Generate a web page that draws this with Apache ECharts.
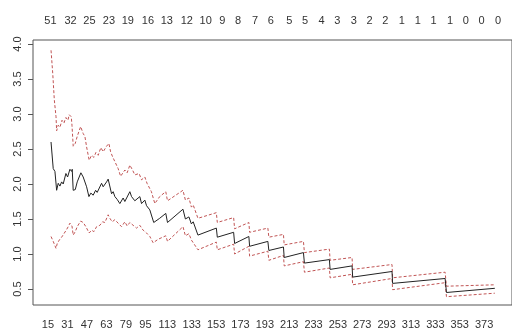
<!DOCTYPE html>
<html>
<head>
<meta charset="utf-8">
<script src="https://cdn.jsdelivr.net/npm/echarts@6/dist/echarts.min.js"></script>
<style>
html,body{margin:0;padding:0;background:#fff;}
#chart{width:512px;height:335px;}
</style>
</head>
<body>
<div id="chart"></div>
<script>
// estimate (black)
var estTime = [17.5,19.3,20.7,22.1,23.4,24.8,26.2,27.5,29.7,31.1,33.0,34.4,34.9,35.7,37.4,39.0,42.0,43.9,45.3,46.7,
    48.6,50.2,52.1,54.1,55.4,59.0,60.3,63.1,64.4,65.8,67.2,68.5,69.9,71.8,74.0,76.7,78.1,82.2,83.6,86.3,
    90.4,91.8,94.5,95.9,98.6,101.8,106.7,111.7,113.1,125.8,127.8,130.7,132.7,134.2,138.1,153.2,154.0,167.4,168.2,179.9,
    180.5,195.5,196.3,208.3,208.9,224.7,225.5,246.0,246.6,264.6,265.1,297.4,297.9,341.0,342.1,381.8];
var estValue = [2.60,2.22,2.18,1.91,2.01,1.97,2.03,2.00,2.15,2.10,2.21,2.18,2.21,1.91,1.92,2.03,2.16,2.10,2.08,1.96,
    1.82,1.87,1.84,1.91,1.88,2.01,1.96,2.03,2.07,2.06,1.86,1.89,1.82,1.78,1.72,1.80,1.75,1.89,1.82,1.76,
    1.82,1.72,1.77,1.69,1.63,1.45,1.51,1.58,1.45,1.64,1.50,1.53,1.43,1.46,1.27,1.37,1.24,1.31,1.15,1.25,
    1.11,1.18,1.05,1.10,0.95,1.02,0.87,0.92,0.78,0.83,0.67,0.75,0.58,0.65,0.45,0.51];

// upper band (red dashed)
var upTime = [17.5,18.9,20.2,21.6,22.1,23.4,24.8,26.5,28.1,29.7,31.4,32.4,34.1,34.7,35.7,37.4,39.0,41.8,43.9,45.3,
    46.7,48.8,50.8,52.7,54.3,56.2,58.4,60.3,63.1,65.0,66.4,68.0,69.9,72.6,74.6,78.1,80.0,82.2,84.4,86.3,
    89.8,91.8,94.5,96.3,99.9,102.7,106.7,111.7,113.1,125.8,127.8,130.7,132.7,134.2,138.1,153.2,154.0,167.4,168.2,179.9,
    180.5,195.5,196.3,208.3,208.9,224.7,225.5,246.0,246.6,264.6,265.1,297.4,297.9,341.0,342.1,381.8];
var upValue = [3.91,3.58,3.20,2.96,2.76,2.84,2.81,2.91,2.87,2.95,2.91,2.99,2.96,2.84,2.54,2.58,2.68,2.82,2.72,2.68,
    2.53,2.34,2.41,2.38,2.45,2.41,2.52,2.46,2.54,2.58,2.46,2.39,2.32,2.22,2.11,2.20,2.16,2.27,2.20,2.13,
    2.15,2.06,2.10,2.01,1.89,1.72,1.82,1.89,1.76,1.91,1.77,1.80,1.67,1.70,1.51,1.59,1.45,1.52,1.36,1.45,
    1.31,1.37,1.24,1.28,1.13,1.18,1.02,1.07,0.91,0.95,0.78,0.85,0.66,0.74,0.54,0.56];

// lower band (red dashed)
var loTime = [17.5,19.3,21.6,22.6,24.3,26.2,28.1,30.3,31.6,33.0,34.7,35.7,37.4,39.0,41.8,43.9,46.1,48.8,50.8,52.7,
    54.9,57.6,59.8,61.7,64.4,65.8,67.7,69.9,72.6,75.4,78.1,80.0,82.2,84.9,87.7,90.4,93.1,95.9,98.6,101.3,
    105.4,111.7,113.1,125.8,127.8,130.7,132.7,134.2,138.1,153.2,154.0,167.4,168.2,179.9,180.5,195.5,196.3,208.3,208.9,224.7,
    225.5,246.0,246.6,264.6,265.1,297.4,297.9,341.0,342.1,381.8];
var loValue = [1.25,1.18,1.08,1.15,1.20,1.24,1.29,1.35,1.39,1.44,1.40,1.27,1.32,1.39,1.47,1.45,1.39,1.30,1.34,1.32,
    1.39,1.41,1.46,1.45,1.56,1.51,1.46,1.49,1.44,1.39,1.46,1.40,1.45,1.41,1.37,1.41,1.34,1.30,1.25,1.16,
    1.21,1.26,1.18,1.39,1.26,1.29,1.20,1.22,1.06,1.17,1.06,1.14,1.00,1.11,0.97,1.04,0.91,0.98,0.83,0.89,
    0.74,0.80,0.66,0.71,0.56,0.65,0.49,0.59,0.39,0.44];

// axis labels
var bottomTicks = [15,31,47,63,79,95,113,133,153,173,193,213,233,253,273,293,313,333,353,373];
var topTicks = [17,33.5,49,65,80.5,97,112.5,129,144.5,158,171,185,198,213,226,239.5,252.5,266,279,292,305.5,318.5,331.5,345,358,371,384.5];
var topLabels = ['51','32','25','23','19','16','13','12','10','9','8','7','6','5','5','4','3','3','2','2','1','1','1','1','0','0','0'];
var yTicks = [0.5,1.0,1.5,2.0,2.5,3.0,3.5,4.0];

function pairs(xs, ys){
    var out = [];
    for(var i=0;i<xs.length;i++) out.push([xs[i], ys[i]]);
    return out;
}

var chart = echarts.init(document.getElementById('chart'));
var font = {color:'#333', fontSize:11, fontFamily:'Liberation Sans, Arial, sans-serif'};
var xMin = 2.7, xMax = 395.9;

var option = {
    animation:false,
    grid:{left:33, top:40, width:480, height:265, show:true, borderColor:'#555', borderWidth:1, backgroundColor:'transparent'},
    xAxis:[
        {
            type:'value', min:xMin, max:xMax, position:'bottom',
            axisLine:{show:false}, axisTick:{show:false}, splitLine:{show:false},
            axisLabel:Object.assign({customValues:bottomTicks, margin:14, formatter:function(v){return String(v);}}, font)
        },
        {
            type:'value', min:xMin, max:xMax, position:'top',
            axisLine:{show:false}, axisTick:{show:false}, splitLine:{show:false},
            axisLabel:Object.assign({customValues:topTicks, margin:14, formatter:function(v){
                var best = 0;
                for(var i=1;i<topTicks.length;i++){
                    if(Math.abs(topTicks[i]-v) < Math.abs(topTicks[best]-v)) best = i;
                }
                return topLabels[best];
            }}, font)
        }
    ],
    yAxis:{
        type:'value', min:0.2714, max:4.057,
        axisLine:{show:false}, splitLine:{show:false},
        axisTick:{show:true, customValues:yTicks, length:5, lineStyle:{color:'#555'}},
        axisLabel:Object.assign({customValues:yTicks, rotate:90, margin:10, formatter:function(v){return v.toFixed(1);}}, font)
    },
    series:[
        {
            type:'line', xAxisIndex:0, data:pairs(upTime, upValue), symbol:'none',
            lineStyle:{color:'#c05454', width:1, type:[3,2]}
        },
        {
            type:'line', xAxisIndex:0, data:pairs(loTime, loValue), symbol:'none',
            lineStyle:{color:'#c05454', width:1, type:[3,2]}
        },
        {
            type:'line', xAxisIndex:0, data:pairs(estTime, estValue), symbol:'none',
            lineStyle:{color:'#222', width:1}
        }
    ]
};
chart.setOption(option);
</script>
</body>
</html>
